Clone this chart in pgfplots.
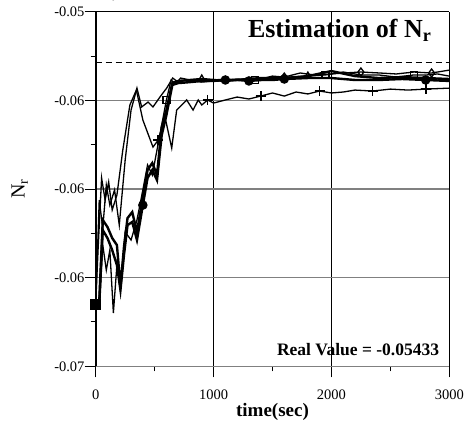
\documentclass[border=0pt]{standalone}
\usepackage{fontspec}
\setmainfont{Liberation Serif}
\usepackage{pgfplots}
\pgfplotsset{compat=1.18}
\begin{document}
\begin{tikzpicture}
\begin{axis}[
  scale only axis, width=353.6pt, height=354.6pt,
  at={(0,0)}, anchor=south west,
  xmin=0, xmax=3000, ymin=-0.07, ymax=-0.05172,
  xtick={0,1000,2000,3000}, xticklabels={0,1000,2000,3000},
  ytick={-0.07,-0.06543,-0.06086,-0.05629,-0.05172},
  yticklabels={-0.07,-0.06,-0.06,-0.06,-0.05},
  minor x tick num=1, minor y tick num=1,
  xtick pos=bottom, ytick pos=left,
  tick align=outside, major tick length=11pt, minor tick length=5pt,
  every tick/.style={black, line width=1pt},
  axis line style={draw=none},
  grid=major,
  x grid style={black, line width=1pt},
  y grid style={gray, line width=1.4pt},
  ticklabel style={font=\fontsize{14.5}{14.5}\selectfont, inner sep=1pt},
  xticklabel shift=11pt, yticklabel shift=-1pt,
  xlabel={\textbf{time(sec)}}, ylabel={N\textsubscript{r}},
  xlabel style={font=\fontsize{19}{19}\selectfont, at={(rel axis cs:0.5,0)}, anchor=center, yshift=-46pt},
  ylabel style={font=\fontsize{20}{20}\selectfont, at={(rel axis cs:0,0.5)}, anchor=center, yshift=76pt},
  mark options={solid},
]
\draw[gray, line width=1.5pt] (rel axis cs:0,0) -- (rel axis cs:1,0);
\draw[black, line width=2pt] (rel axis cs:0,0) -- (rel axis cs:0,1);
\draw[black, line width=1pt] (rel axis cs:0,1) -- (rel axis cs:1,1);
\draw[black, line width=1.5pt] (rel axis cs:1,0) -- (rel axis cs:1,1);

\addplot[black, line width=1.2pt, dash pattern=on 6pt off 4pt] coordinates {(0,-0.05433) (3000,-0.05433)};

% S1 diamond
\addplot[black, line width=1.3pt, mark=diamond, mark size=4pt, mark indices={26,31,35}, mark options={fill=white, line width=1.3pt}] coordinates {
(0,-0.06679) (30,-0.06143) (60,-0.06287) (90,-0.06066) (120,-0.06169) (160,-0.06091) (200,-0.06272) (250,-0.05937) (300,-0.05679) (350,-0.05566) (390,-0.05663) (444,-0.05638) (486,-0.05663) (545,-0.05612) (602,-0.05566) (653,-0.05514) (700,-0.05535) (760,-0.05524) (850,-0.05529) (1000,-0.05524) (1100,-0.05519) (1200,-0.05524) (1300,-0.05514) (1400,-0.05519) (1500,-0.05504) (1600,-0.05509) (1735,-0.05488) (1850,-0.05498) (2000,-0.05493) (2100,-0.05488) (2250,-0.05483) (2410,-0.05488) (2550,-0.05493) (2700,-0.05483) (2850,-0.05488) (3000,-0.05473)};

% S5 plus
\addplot[black, line width=1.3pt, mark=+, mark size=5pt, mark indices={13,22,27,32,36,39}, mark options={line width=1.6pt}] coordinates {
(0,-0.06679) (20,-0.06401) (50,-0.06029) (80,-0.06143) (110,-0.06050) (140,-0.06194) (180,-0.06117) (230,-0.05885) (290,-0.05653) (345,-0.05576) (400,-0.05730) (486,-0.05870) (530,-0.05834) (588,-0.05715) (645,-0.05875) (687,-0.05679) (730,-0.05653) (772,-0.05627) (826,-0.05679) (870,-0.05627) (900,-0.05653) (950,-0.05627) (1000,-0.05643) (1100,-0.05627) (1200,-0.05612) (1300,-0.05622) (1400,-0.05607) (1500,-0.05591) (1600,-0.05607) (1700,-0.05586) (1800,-0.05596) (1900,-0.05581) (2000,-0.05591) (2100,-0.05586) (2200,-0.05576) (2350,-0.05581) (2500,-0.05571) (2650,-0.05576) (2800,-0.05571) (3000,-0.05566)};

% S2 square
\addplot[black, line width=1.3pt, mark=square, mark size=3.5pt, mark indices={17,26,30,35}, mark options={fill=white, line width=1.3pt}] coordinates {
(0,-0.06679) (30,-0.06684) (60,-0.06375) (90,-0.06504) (120,-0.06401) (150,-0.06725) (180,-0.06478) (210,-0.06607) (250,-0.06308) (300,-0.06349) (350,-0.06246) (400,-0.06091) (440,-0.05962) (480,-0.06014) (520,-0.05885) (560,-0.05756) (600,-0.05627) (640,-0.05524) (680,-0.05545) (720,-0.05514) (800,-0.05524) (900,-0.05535) (1000,-0.05529) (1100,-0.05524) (1200,-0.05519) (1350,-0.05524) (1535,-0.05514) (1650,-0.05509) (1800,-0.05504) (1950,-0.05498) (2100,-0.05483) (2250,-0.05498) (2400,-0.05498) (2550,-0.05509) (2700,-0.05498) (2810,-0.05498) (2900,-0.05493) (3000,-0.05504)};

% S3 triangle
\addplot[black, line width=2.4pt, mark=triangle, mark size=4pt, mark indices={21,27}, mark options={fill=white, line width=1.3pt}] coordinates {
(0,-0.06679) (30,-0.06669) (60,-0.06246) (100,-0.06282) (140,-0.06339) (180,-0.06375) (210,-0.06591) (240,-0.06385) (270,-0.06236) (310,-0.06205) (350,-0.06308) (400,-0.06127) (440,-0.05988) (480,-0.05952) (520,-0.06014) (560,-0.05767) (600,-0.05679) (650,-0.05540) (700,-0.05529) (800,-0.05524) (900,-0.05519) (1000,-0.05524) (1100,-0.05529) (1200,-0.05524) (1400,-0.05514) (1600,-0.05514) (1800,-0.05504) (2000,-0.05478) (2200,-0.05504) (2400,-0.05514) (2600,-0.05509) (2800,-0.05514) (3000,-0.05519)};

% S4 filled circle
\addplot[black, line width=2.4pt, mark=*, mark size=3.5pt, mark indices={12,23,25,28,34}] coordinates {
(0,-0.06679) (30,-0.06684) (60,-0.06298) (100,-0.06339) (140,-0.06401) (180,-0.06478) (210,-0.06607) (240,-0.06426) (270,-0.06272) (310,-0.06256) (350,-0.06349) (400,-0.06169) (440,-0.06029) (480,-0.05988) (520,-0.06040) (560,-0.05808) (600,-0.05705) (650,-0.05550) (700,-0.05540) (800,-0.05535) (900,-0.05529) (1000,-0.05529) (1100,-0.05524) (1207,-0.05524) (1300,-0.05529) (1410,-0.05524) (1500,-0.05524) (1600,-0.05519) (1800,-0.05514) (2000,-0.05514) (2200,-0.05524) (2400,-0.05524) (2600,-0.05519) (2800,-0.05524) (3000,-0.05529)};

\addplot[only marks, mark=square*, mark size=5pt, black] coordinates {(0,-0.06679)};

\node[font=\fontsize{26}{26}\selectfont\bfseries] at (rel axis cs:0.69,0.948) {Estimation of N\textsubscript{r}};
\node[font=\fontsize{17.5}{17.5}\selectfont\bfseries] at (rel axis cs:0.742,0.046) {Real Value = -0.05433};
\end{axis}
\pgfresetboundingbox
\path[use as bounding box] (-95.7pt,-57.7pt) rectangle (380.3pt,366.3pt);
\end{tikzpicture}
\end{document}
